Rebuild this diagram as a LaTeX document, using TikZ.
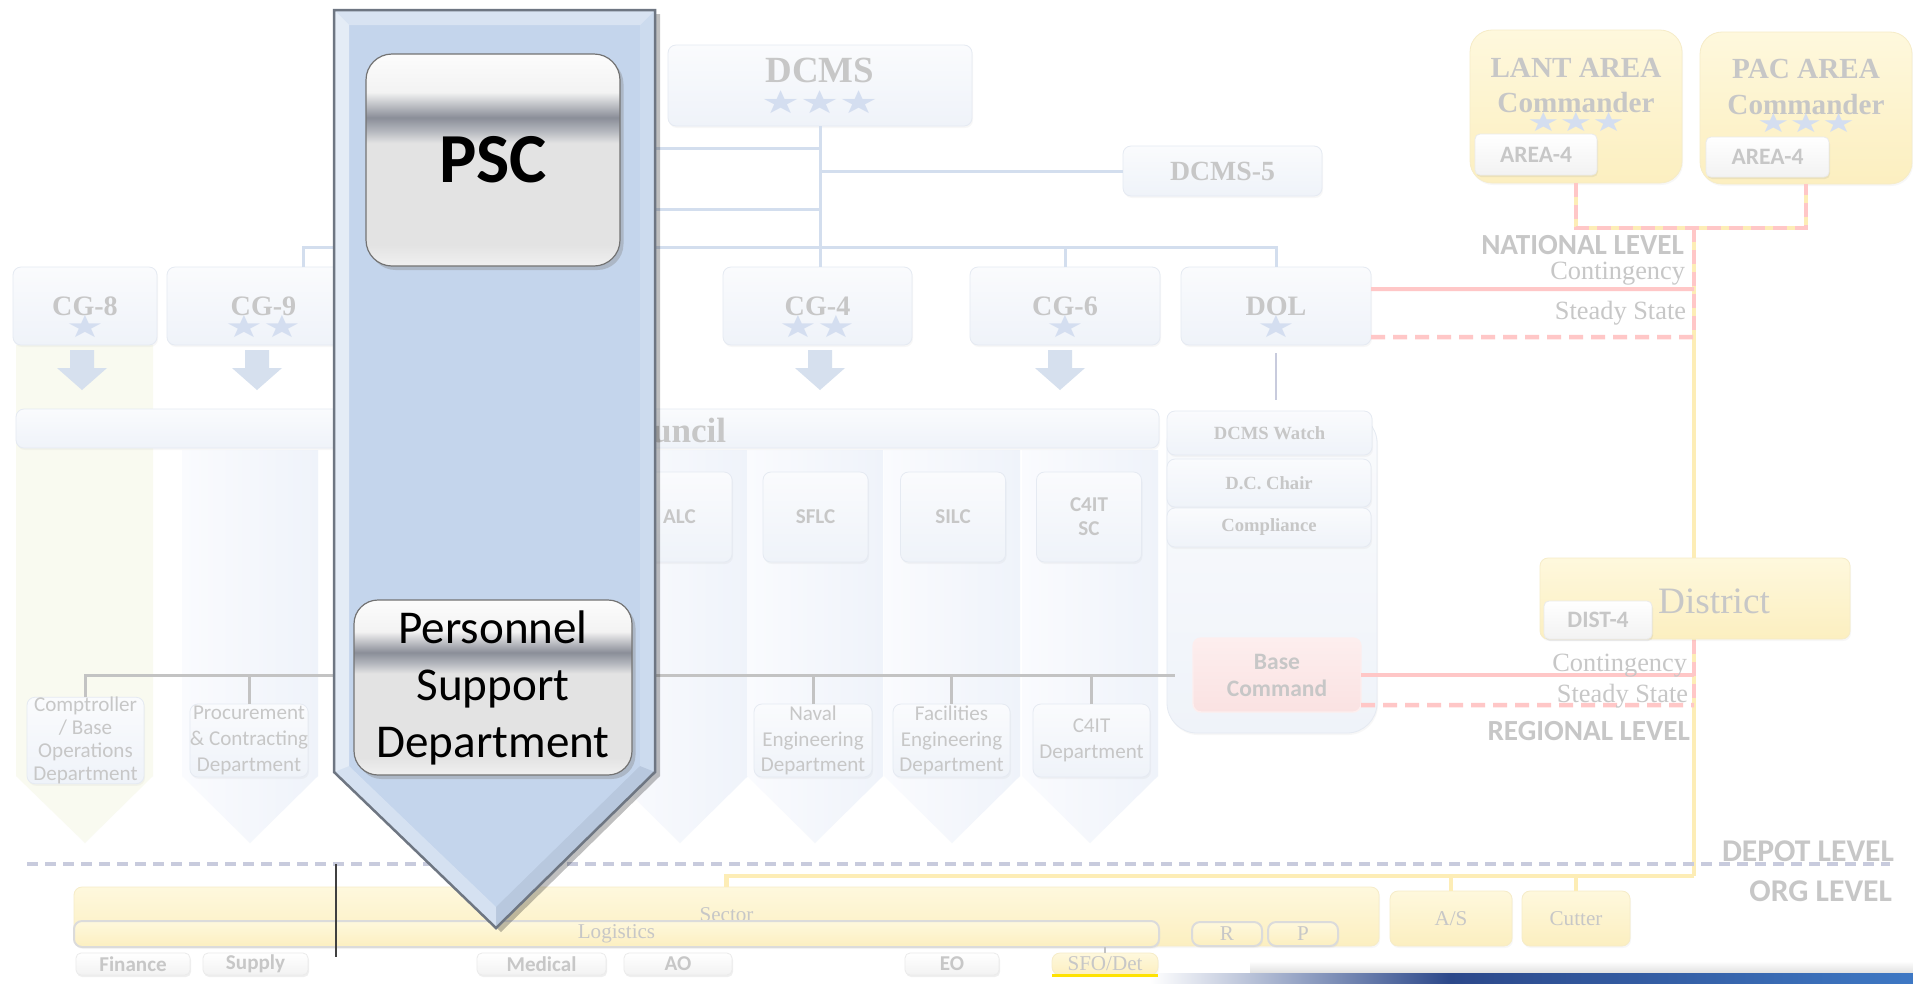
\documentclass[tikz,border=0pt]{standalone}
\usepackage{graphicx}
\usepackage{fontspec}
\setmainfont{Liberation Serif}
\setsansfont{Carlito}
\newfontfamily\starfont{DejaVu Sans}
\usetikzlibrary{shadows}

\definecolor{txt}{RGB}{199,199,199}
\definecolor{bluline}{RGB}{211,222,238}
\definecolor{grline}{RGB}{195,195,195}
\definecolor{redline}{RGB}{255,199,199}
\definecolor{yelline}{RGB}{253,237,182}
\definecolor{depline}{RGB}{200,203,221}
\definecolor{starblue}{RGB}{212,222,240}
\definecolor{downblue}{RGB}{214,224,238}
\definecolor{arrowblue}{RGB}{196,213,236}
\definecolor{arrowedge}{RGB}{110,118,130}
\definecolor{ghostA}{RGB}{250,251,253}
\definecolor{ghostB}{RGB}{239,243,249}
\definecolor{ghostE}{RGB}{229,234,242}
\definecolor{colL}{RGB}{250,251,254}
\definecolor{colR}{RGB}{239,243,250}
\definecolor{colY}{RGB}{249,250,240}
\definecolor{yelA}{RGB}{254,248,221}
\definecolor{yelB}{RGB}{252,239,192}
\definecolor{yelE}{RGB}{246,236,200}
\definecolor{redA}{RGB}{253,238,238}
\definecolor{redB}{RGB}{250,226,226}
\definecolor{bandA}{RGB}{44,72,138}
\definecolor{bandB}{RGB}{62,120,196}
\definecolor{gl1}{RGB}{240,240,240}
\definecolor{gl2}{RGB}{227,227,227}
\definecolor{gl3}{RGB}{178,181,188}
\definecolor{gl4}{RGB}{138,142,152}
\definecolor{gl5}{RGB}{243,243,243}
\definecolor{gl6}{RGB}{252,252,252}

\pgfdeclareverticalshading{glass}{100bp}{color(0bp)=(gl1); color(25bp)=(gl1);
  color(30bp)=(gl2); color(54bp)=(gl2); color(57bp)=(gl3); color(60bp)=(gl4);
  color(66bp)=(gl5); color(75bp)=(gl6); color(100bp)=(gl6)}

\newcommand{\fsz}[2]{\fontsize{#1}{#2}\selectfont}
\newcommand{\fcg}{\rmfamily\bfseries\fsz{8}{9.6}}
\newcommand{\fdcms}{\rmfamily\bfseries\fsz{10.5}{12}}
\newcommand{\fdfive}{\rmfamily\bfseries\fsz{7.9}{9}}
\newcommand{\fcouncil}{\rmfamily\bfseries\fsz{10}{12}}
\newcommand{\funit}{\sffamily\bfseries\fsz{6}{6.8}}
\newcommand{\fdept}{\sffamily\fsz{6}{7.3}}
\newcommand{\fwatch}{\rmfamily\bfseries\fsz{5.3}{6}}
\newcommand{\fbase}{\sffamily\bfseries\fsz{6.7}{7.7}}
\newcommand{\farea}{\rmfamily\bfseries\fsz{8.3}{10}}
\newcommand{\ftab}{\sffamily\bfseries\fsz{6.7}{8}}
\newcommand{\fdist}{\rmfamily\fsz{10.6}{12}}
\newcommand{\flvl}{\sffamily\bfseries\fsz{8.3}{10}}
\newcommand{\fbig}{\sffamily\bfseries\fsz{9}{11}}
\newcommand{\fstate}{\rmfamily\fsz{7.5}{9}}
\newcommand{\fsmall}{\rmfamily\fsz{6}{7}}
\newcommand{\fsmalltab}{\sffamily\bfseries\fsz{6}{7}}
\newcommand{\fpsc}{\sffamily\bfseries\fsz{20}{24}}
\newcommand{\fpsd}{\sffamily\fsz{13.4}{16.2}}
\newcommand{\stars}[2]{{\starfont\fsz{#2}{#2}\color{starblue}%
  \scalebox{1.38}[1]{\ifcase#1\or ★\or ★★\or ★★★\fi}}}

\tikzset{
  wh/.style 2 args={minimum width=#1*0.1mm, minimum height=#2*0.1mm},
  ghost/.style={rounded corners=0.8mm, top color=ghostA, bottom color=ghostB,
    draw=ghostE, line width=0.08mm, text=txt,
    drop shadow={shadow xshift=0.1mm, shadow yshift=-0.2mm, opacity=0.06}},
  yelbox/.style={rounded corners=0.8mm, top color=yelA, bottom color=yelB,
    draw=yelE, line width=0.08mm, text=txt,
    drop shadow={shadow xshift=0.1mm, shadow yshift=-0.2mm, opacity=0.06}},
  ybar/.style={yelbox, draw=black!14, line width=0.2mm},
  redbox/.style={rounded corners=0.8mm, top color=redA, bottom color=redB,
    draw=redA, text=txt},
  tab/.style={rounded corners=0.5mm, top color=white, bottom color=black!5,
    draw=black!8, line width=0.08mm, text=txt,
    drop shadow={shadow xshift=0.1mm, shadow yshift=-0.2mm, opacity=0.12}},
  glassbox/.style={rounded corners=2.6mm, shading=glass, draw=black!55,
    line width=0.12mm, text=black,
    drop shadow={shadow xshift=0.35mm, shadow yshift=-0.4mm, opacity=0.35}},
  bline/.style={draw=bluline, line width=0.3mm},
  gline/.style={draw=grline, line width=0.3mm},
  rline/.style={draw=redline, line width=0.4mm},
  rdash/.style={draw=redline, line width=0.45mm, dash pattern=on 1.4mm off 0.8mm},
  yline/.style={draw=yelline, line width=0.45mm},
  lvl/.style={text=txt, anchor=east},
  every label/.style={text=txt},
}

\begin{document}
\begin{tikzpicture}[x=0.1mm, y=-0.1mm, every node/.style={inner sep=0pt, outer sep=0pt}]
    \useasboundingbox (0,0) rectangle (1913,983);
    \fill[white] (0,0) rectangle (1913,983);

    % band at the foot
    \shade[top color=white, bottom color=black!12] (1250,961) rectangle (1913,973);
    \shade[left color=white, right color=bandA] (1150,973) rectangle (1450,983);
    \shade[left color=bandA, right color=bandB] (1450,973) rectangle (1913,983);

    % columns
    \fill[colY] (16,345) -- (153,345) -- (153,776) -- (85,843) -- (16,776) -- cycle;
    \foreach \l in {182,612,747,884,1022}
        \shade[left color=colL, right color=colR] (\l,450) -- (\l+136,450)
            -- (\l+136,776) -- (\l+68,843) -- (\l,776) -- cycle;

    % council bar
    \node[ghost, wh={1143}{39}] (council) at (587.5,428.5) {};
    \node[font=\fcouncil, text=txt, anchor=west] (councilt) at (652,431) {uncil};

    % DCMS lines
    \node[ghost, wh={304}{81}, label={[yshift=1.55mm, font=\fdcms]center:DCMS},
        label={[yshift=-1.65mm]center:\stars{3}{9}}] (dcms) at (820,85.5) {};
    \node[ghost, wh={199}{50}, font=\fdfive] (dcms5) at (1222.5,171) {DCMS-5};
    \coordinate (cgrow) at (820,247);
    \draw[bline] (560,148) -- (820,148);
    \draw[bline] (560,209) -- (820,209);
    \draw[bline] (820,171) -- (dcms5.west);

    \foreach \n/\x/\w/\t/\s in {cg8/85/144/CG-8/1, cg9/263.5/193/CG-9/2,
        cg4/817.5/189/CG-4/2, cg6/1065/190/CG-6/1, dol/1276/190/DOL/1}
        \node[ghost, wh={\w}{78}, font=\fcg,
            label={[yshift=-2.1mm]center:\stars{\s}{8.7}}] (\n) at (\x,306) {\t};

    \draw[bline] (dcms.south) -- (dcms.south |- cg4.north);
    \draw[bline] (303,267) |- (dol.north |- cgrow) -- (dol.north);
    \draw[bline] (cg6.north) -- (cg6.north |- cgrow);

    % down arrows
    \foreach \x in {82,257,820,1060}
        \fill[downblue] (\x-12,350) -- (\x+12,350) -- (\x+12,368) -- (\x+25,368)
            -- (\x,390) -- (\x-25,368) -- (\x-12,368) -- cycle;

    % centres
    \foreach \n/\x/\t in {alc/679.5/ALC, sflc/815.5/SFLC, silc/953/SILC, c4itsc/1089/{C4IT\\SC}}
        \node[ghost, wh={105}{90}, font=\funit, align=center] (\n) at (\x,517) {\t};

    % departments
    \node[ghost, wh={117}{73}, font=\sffamily\fsz{6}{6.5}, align=center] (comp)
        at (85.5,740.5) {Comptroller\\/ Base\\Operations\\Department};
    \node[ghost, wh={116}{73}, font=\fdept, align=center] (proc)
        at (249,740.5) {Procurement\\\& Contracting\\Department};
    \node[ghost, wh={118}{73}, font=\fdept, align=center] (naval)
        at (813,740.5) {Naval\\Engineering\\Department};
    \node[ghost, wh={117}{73}, font=\fdept, align=center] (facil)
        at (951.5,740.5) {Facilities\\Engineering\\Department};
    \node[ghost, wh={117}{73}, font=\fdept, align=center] (c4itd)
        at (1091.5,740.5) {C4IT\\Department};

    % DOL group
    \node[ghost, wh={210}{320}, rounded corners=3mm] (dolgrp) at (1272,573) {};
    \node[ghost, wh={205}{44}, font=\fwatch] (watch) at (1269.5,433) {DCMS Watch};
    \node[ghost, wh={204}{48}, font=\fwatch] (chair) at (1269,483) {D.C. Chair};
    \node[ghost, wh={204}{39}, font=\fwatch] (compl) at (1269,527.5) {Compliance};
    \node[redbox, wh={168}{74}, font=\fbase, align=center] (base) at (1277,675) {Base\\Command};
    \draw[draw=depline, line width=0.2mm] ([yshift=-0.8mm]dol.south)
        -- ([yshift=1.1mm]dol.south |- watch.north);

    \coordinate (gend) at (1175,675);
    \draw[gline] (comp.north) |- (gend);
    \foreach \n in {proc,naval,facil,c4itd}
        \draw[gline] (\n.north) -- (\n.north |- gend);

    % area and district
    \node[yelbox, wh={212}{153}, rounded corners=2.2mm,
        label={[yshift=2.1mm, font=\farea, align=center]center:LANT AREA\\Commander},
        label={[yshift=-1.6mm]center:\stars{3}{7.5}}] (lant) at (1576,106.5) {};
    \node[yelbox, wh={212}{152}, rounded corners=2.2mm,
        label={[yshift=2.1mm, font=\farea, align=center]center:PAC AREA\\Commander},
        label={[yshift=-1.55mm]center:\stars{3}{7.5}}] (pac) at (1806,108) {};

    \coordinate (natj) at (1694,228);
    \coordinate (natc) at (1694,289);
    \coordinate (nats) at (1694,337);
    \coordinate (regc) at (1694,675);
    \coordinate (regs) at (1694,705);
    \coordinate (orgj) at (1694,876);

    \draw[yline] (lant.south) |- (natj) -| (pac.south);
    \draw[yline] (natj) -- (orgj);
    \draw[rdash] (lant.south) |- (natj) -| (pac.south);
    \draw[rdash] (natj) -- (nats);
    \draw[rdash] (1694,640) -- (regs);

    \draw[rline] ([yshift=1.7mm]dol.east) -- (natc);
    \draw[rdash] ([yshift=-3.1mm]dol.east) -- (nats);
    \draw[rline] (base.east) -- (regc);
    \draw[rdash] ([yshift=-3mm]base.east) -- (regs);

    \node[tab, wh={122}{41}, font=\ftab] (lanttab) at (1536,154.5) {AREA-4};
    \node[tab, wh={123}{40}, font=\ftab] (pactab) at (1767.5,157) {AREA-4};
    \node[yelbox, wh={310}{81},
        label={[xshift=1.9mm, yshift=-0.25mm, font=\fdist]center:District}] (district) at (1695,598.5) {};
    \node[tab, wh={108}{38}, font=\ftab] (disttab) at (1598,620) {DIST-4};

    % levels
    \node[lvl, font=\flvl] (natlvl) at (1684,245) {NATIONAL LEVEL};
    \node[lvl, font=\fstate] (natcont) at (1685,274) {Contingency};
    \node[lvl, font=\fstate] (natsteady) at (1686,313) {Steady State};
    \node[lvl, font=\fstate] (regcont) at (1687,666) {Contingency};
    \node[lvl, font=\fstate] (regsteady) at (1688,696) {Steady State};
    \node[lvl, font=\flvl] (reglvl) at (1690,731) {REGIONAL LEVEL};
    \node[lvl, font=\fbig] (depot) at (1894,851) {DEPOT LEVEL};
    \node[lvl, font=\fbig] (org) at (1892,891) {ORG LEVEL};

    % units
    \node[yelbox, wh={1305}{59},
        label={[yshift=0.15mm, font=\fsmall]center:Sector}] (sector) at (726.5,916.5) {};
    \node[yelbox, wh={122}{55}, font=\fsmall] (asbox) at (1451,918.5) {A/S};
    \node[yelbox, wh={108}{55}, font=\fsmall] (cutter) at (1576,918.5) {Cutter};
    \draw[yline] (orgj) -| (sector.north);
    \foreach \n in {asbox,cutter}
        \draw[yline] (\n.north) -- (\n.north |- orgj);
    \draw[draw=depline, line width=0.4mm, dash pattern=on 1.1mm off 0.7mm] (27,864) -- (1890,864);

    \node[ybar, wh={1085}{26}, font=\fsmall] (logis) at (616.5,934) {Logistics};
    \node[ybar, wh={70}{24}, font=\fsmall] (rbox) at (1227,934) {R};
    \node[ybar, wh={70}{24}, font=\fsmall] (pbox) at (1303,934) {P};

    \foreach \n/\x/\w/\t in {finance/133/114/Finance, supply/255.5/105/Supply,
        medical/541.5/129/Medical, ao/678/108/AO, eo/952/94/EO}
        \node[tab, wh={\w}{22}, font=\fsmalltab] (\n) at (\x,964) {\t};
    \node[yelbox, wh={106}{22}, font=\fsmall] (sfo) at (1105,964) {SFO/Det};
    \draw[draw=yellow!85!orange, line width=0.3mm] (sfo.south west) -- (sfo.south east);
    \draw[gline, line width=0.2mm] (logis.south -| sfo.north) -- (sfo.north);

    % PSC arrow
    \fill[black, opacity=0.25] (339,14) -- (660,14) -- (660,776) -- (501,932) -- (339,776) -- cycle;
    \fill[arrowblue] (334,10) -- (655,10) -- (655,772) -- (496,928) -- (334,772) -- cycle;
    \fill[white, opacity=0.35] (334,10) -- (655,10) -- (640,25) -- (349,25) -- cycle;
    \fill[white, opacity=0.55] (334,10) -- (349,25) -- (349,766) -- (334,772) -- cycle;
    \fill[white, opacity=0.15] (655,10) -- (655,772) -- (640,766) -- (640,25) -- cycle;
    \fill[white, opacity=0.30] (334,772) -- (349,766) -- (496,907) -- (496,928) -- cycle;
    \fill[black, opacity=0.06] (655,772) -- (640,766) -- (496,907) -- (496,928) -- cycle;
    \draw[arrowedge, line width=0.25mm, line join=miter]
        (334,10) -- (655,10) -- (655,772) -- (496,928) -- (334,772) -- cycle;
    \draw[black!75, line width=0.12mm] (336,864) -- (336,957);

    \node[glassbox, wh={254}{212}, font=\fpsc] (psc) at (493,160) {PSC};
    \node[glassbox, wh={278}{175}, rounded corners=2.4mm, font=\fpsd, align=center] (psd)
        at (493,687.5) {Personnel\\Support\\Department};
\end{tikzpicture}
\end{document}
